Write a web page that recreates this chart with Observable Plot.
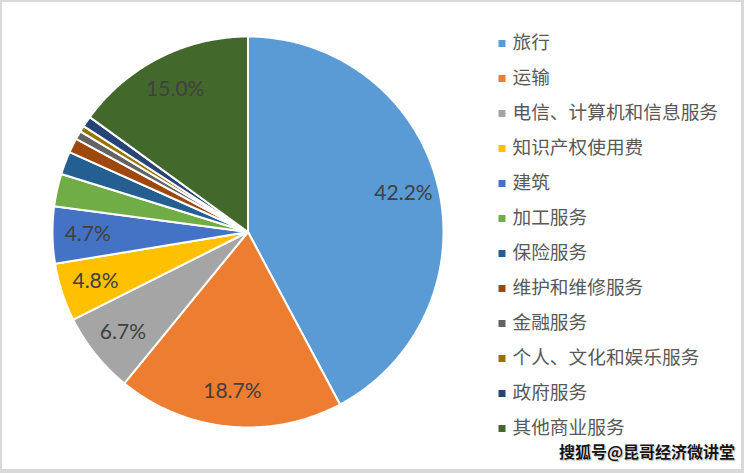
<!DOCTYPE html>
<html>
<head>
<meta charset="utf-8">
<script src="https://cdn.jsdelivr.net/npm/d3@7"></script>
<script src="https://cdn.jsdelivr.net/npm/@observablehq/plot@0.6"></script>
<style>
  html, body { margin: 0; padding: 0; background: #fff; }
  #chart { position: relative; width: 744px; height: 473px; overflow: hidden; background: #fff; }
  #chart svg { position: absolute; left: 0; top: 0; }
  #frame { position: absolute; left: 0; top: 0; width: 744px; height: 473px; box-sizing: border-box;
           border-style: solid; border-color: #d9d9d9; border-width: 2px 3px 4px 2px; pointer-events: none; }
  #mark { position: absolute; right: 9px; top: 440px; font-family: "Noto Sans CJK SC", sans-serif;
          font-weight: bold; font-size: 16px; line-height: 22px; color: #151515;
          text-shadow: 0 0 2px #fff, 0 0 2px #fff, 1px 1px 1px #999; white-space: nowrap; }
</style>
</head>
<body>
<div id="chart"><div id="frame"></div><div id="mark">搜狐号@昆哥经济微讲堂</div></div>
<script>
// ---- data ----
const categories = ["旅行", "运输", "电信、计算机和信息服务", "知识产权使用费", "建筑", "加工服务",
  "保险服务", "维护和维修服务", "金融服务", "个人、文化和娱乐服务", "政府服务", "其他商业服务"];
const shares = [42.2, 18.7, 6.7, 4.8, 4.7, 2.7, 1.9, 1.2, 0.7, 0.5, 0.9, 15.0];
const palette = ["#5B9BD5", "#ED7D31", "#A5A5A5", "#FFC000", "#4472C4", "#70AD47",
  "#255E91", "#9E480E", "#636363", "#997300", "#264478", "#43682B"];

const rows = categories.map((name, i) => ({name, share: shares[i]}));
const arcs = d3.pie().sort(null).value(d => d.share).startAngle(0).endAngle(2 * Math.PI)(rows);

// wedge outlines in unit-circle space (geometry only)
const wedges = [];
for (const a of arcs) {
  const n = Math.max(2, Math.ceil((a.endAngle - a.startAngle) / (Math.PI / 360)));
  wedges.push({name: a.data.name, x: 0, y: 0});
  for (let k = 0; k <= n; k++) {
    const t = a.startAngle + (a.endAngle - a.startAngle) * k / n;
    wedges.push({name: a.data.name, x: Math.sin(t), y: Math.cos(t)});
  }
  wedges.push({name: a.data.name, x: 0, y: 0});
}
const labelR = 0.82;
const labels = arcs.filter(a => a.data.share >= 4).map(a => {
  const m = (a.startAngle + a.endAngle) / 2;
  return {text: d3.format(".1f")(a.data.share) + "%", x: labelR * Math.sin(m), y: labelR * Math.cos(m)};
});

const cx = 247.5, cy = 231.5, R = 195.5;
const pie = Plot.plot({
  width: 744, height: 473, margin: 0,
  style: {background: "transparent"},
  x: {domain: [-1, 1], range: [cx - R, cx + R], axis: null},
  y: {domain: [-1, 1], range: [cy + R, cy - R], axis: null},
  color: {domain: categories, range: palette},
  marks: [
    Plot.line(wedges, {x: "x", y: "y", z: "name", fill: "name", stroke: "white", strokeWidth: 2, strokeLinejoin: "round"}),
    Plot.text(labels, {x: "x", y: "y", text: "text", fill: "#404040", fontSize: 21, fontFamily: "Lato, 'Open Sans', sans-serif"})
  ]
});

const legend = Plot.plot({
  width: 744, height: 473, margin: 0,
  style: {background: "transparent"},
  x: {domain: [0, 1], range: [501.5, 740], axis: null},
  y: {type: "point", domain: categories, range: [42.7, 427.7], padding: 0, axis: null},
  color: {domain: categories, range: palette},
  marks: [
    Plot.dot(categories, {x: () => 0, y: d => d, symbol: "square", r: 3.95, fill: d => d, stroke: null}),
    Plot.text(categories, {x: () => 0, y: d => d, text: d => d, dx: 10.5, textAnchor: "start",
      fill: "#595959", fontSize: 18.7, fontFamily: "'Noto Sans CJK SC', sans-serif"})
  ]
});

const chart = document.getElementById("chart");
chart.insertBefore(legend, chart.firstChild);
chart.insertBefore(pie, chart.firstChild);
</script>
</body>
</html>
